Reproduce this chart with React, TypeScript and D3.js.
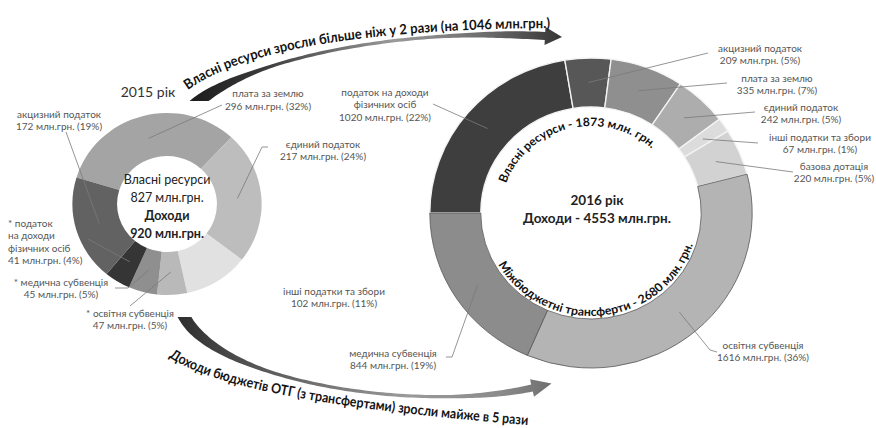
import React from "react";
import * as d3 from "d3";

// ---------- DATA ----------
const categories2015 = [
  "плата за землю",
  "єдиний податок",
  "інші податки та збори",
  "освітня субвенція",
  "медична субвенція",
  "податок на доходи фізичних осіб",
  "акцизний податок",
];
const values2015 = [296, 217, 102, 47, 45, 41, 172];
const percents2015 = [32, 24, 11, 5, 5, 4, 19];
const labelLines2015 = [
  ["плата за землю"],
  ["єдиний податок"],
  ["інші податки та збори"],
  ["* освітня субвенція"],
  ["* медична субвенція"],
  ["* податок", "на доходи", "фізичних осіб"],
  ["акцизний податок"],
];

const categories2016 = [
  "податок на доходи фізичних осіб",
  "акцизний податок",
  "плата за землю",
  "єдиний податок",
  "інші податки та збори",
  "базова дотація",
  "освітня субвенція",
  "медична субвенція",
];
const values2016 = [1020, 209, 335, 242, 67, 220, 1616, 844];
const percents2016 = [22, 5, 7, 5, 1, 5, 36, 19];
const groups2016 = ["own", "own", "own", "own", "own", "transfer", "transfer", "transfer"];
const labelLines2016 = [
  ["податок на доходи", "фізичних осіб"],
  ["акцизний податок"],
  ["плата за землю"],
  ["єдиний податок"],
  ["інші податки та збори"],
  ["базова дотація"],
  ["освітня субвенція"],
  ["медична субвенція"],
];

const year2015 = "2015 рік";
const year2016 = "2016 рік";
const own2015 = 827;
const income2015 = 920;
const own2016 = 1873;
const transfers2016 = 2680;
const income2016 = 4553;
const ownGrowth = 1046;
const topArrowText = `Власні ресурси зросли більше ніж у 2 рази (на ${ownGrowth} млн.грн.)`;
const bottomArrowText = "Доходи бюджетів ОТГ (з трансфертами) зросли майже в 5 рази";
const ringOwnText = `Власні ресурси - ${own2016} млн. грн.`;
const ringTransferText = `Міжбюджетні трансферти - ${transfers2016} млн. грн.`;

// ---------- STYLE / LAYOUT ----------
const colors2015 = ["#a4a4a4", "#bdbdbd", "#e1e1e1", "#b9b9b9", "#8f8f8f", "#353535", "#626262"];
const colors2016 = ["#3e3e3e", "#575757", "#8f8f8f", "#adadad", "#dcdcdc", "#d2d2d2", "#b4b4b4", "#8c8c8c"];

const W = 876;
const H = 428;
const FONT = "Lato, 'Open Sans', sans-serif";
const deg = Math.PI / 180;
const SX = 1.04; // slight horizontal stretch seen in the picture

const C1 = { cx: 167, cy: 204, r0: 48, r1: 91, start: -73 * deg };
const C2 = { cx: 591, cy: 213, r0: 106, r1: 155, start: -90 * deg };

type Pt = [number, number];
type Lab = { x: number; y: number; anchor: string; leader: Pt[] | null };

const layout2015: Lab[] = [
  { x: 268, y: 97, anchor: "middle", leader: [[222, 105]] },
  { x: 323, y: 147.5, anchor: "middle", leader: [[268, 147], [262, 147]] },
  { x: 334, y: 294.5, anchor: "middle", leader: null },
  { x: 130, y: 316.5, anchor: "middle", leader: [[130, 306]] },
  { x: 61, y: 285.5, anchor: "middle", leader: [[115, 288], [128, 288]] },
  { x: 8, y: 226.5, anchor: "start", leader: [[88, 239]] },
  { x: 59, y: 117.5, anchor: "middle", leader: [[66, 132]] },
];
const layout2016: Lab[] = [
  { x: 385, y: 95.5, anchor: "middle", leader: [[433, 104]] },
  { x: 760, y: 51.5, anchor: "middle", leader: [[708, 53]] },
  { x: 777, y: 81.5, anchor: "middle", leader: [[727, 83]] },
  { x: 801, y: 110.5, anchor: "middle", leader: [[755, 112]] },
  { x: 820, y: 140.5, anchor: "middle", leader: [[758, 143]] },
  { x: 834, y: 169.5, anchor: "middle", leader: [[793, 172]] },
  { x: 763, y: 348.5, anchor: "middle", leader: [[717, 352], [710, 350]] },
  { x: 393, y: 356.5, anchor: "middle", leader: [[446, 357], [452, 357]] },
];

// ---------- GEOMETRY HELPERS ----------
function cubicAt(P: Pt[], t: number): Pt {
  const u = 1 - t;
  const a = u * u * u, b = 3 * u * u * t, c = 3 * u * t * t, d = t * t * t;
  return [a * P[0][0] + b * P[1][0] + c * P[2][0] + d * P[3][0], a * P[0][1] + b * P[1][1] + c * P[2][1] + d * P[3][1]];
}
function cubicDer(P: Pt[], t: number): Pt {
  const u = 1 - t;
  const a = 3 * u * u, b = 6 * u * t, c = 3 * t * t;
  return [
    a * (P[1][0] - P[0][0]) + b * (P[2][0] - P[1][0]) + c * (P[3][0] - P[2][0]),
    a * (P[1][1] - P[0][1]) + b * (P[2][1] - P[1][1]) + c * (P[3][1] - P[2][1]),
  ];
}
const smooth = (a: number, b: number, t: number) => {
  const u = Math.max(0, Math.min(1, t));
  return a + (b - a) * u * u * (3 - 2 * u);
};
function bandPath(P: Pt[], wf: (t: number) => number, headHalf: number, headLen: number) {
  const N = 100;
  const L: Pt[] = [];
  const R: Pt[] = [];
  for (let i = 0; i <= N; i++) {
    const t = i / N;
    const [x, y] = cubicAt(P, t);
    let [dx, dy] = cubicDer(P, t);
    const m = Math.hypot(dx, dy);
    dx /= m; dy /= m;
    const w = wf(t) / 2;
    L.push([x - dy * w, y + dx * w]);
    R.push([x + dy * w, y - dx * w]);
  }
  const [ex, ey] = cubicAt(P, 1);
  let [tx, ty] = cubicDer(P, 1);
  const m = Math.hypot(tx, ty);
  tx /= m; ty /= m;
  const head: Pt[] = [
    [ex - ty * headHalf, ey + tx * headHalf],
    [ex + tx * headLen, ey + ty * headLen],
    [ex + ty * headHalf, ey - tx * headHalf],
  ];
  const pts = [...L, ...head, ...R.reverse()];
  return "M" + pts.map((p) => p[0].toFixed(1) + "," + p[1].toFixed(1)).join("L") + "Z";
}
function quadLen(p0: Pt, p1: Pt, p2: Pt) {
  let len = 0;
  let prev = p0;
  for (let i = 1; i <= 200; i++) {
    const t = i / 200, u = 1 - t;
    const q: Pt = [u * u * p0[0] + 2 * u * t * p1[0] + t * t * p2[0], u * u * p0[1] + 2 * u * t * p1[1] + t * t * p2[1]];
    len += Math.hypot(q[0] - prev[0], q[1] - prev[1]);
    prev = q;
  }
  return len;
}
const polar = (r: number, a: number): Pt => [r * Math.sin(a), -r * Math.cos(a)];

let ctx: CanvasRenderingContext2D | null = null;
function measure(font: string, s: string) {
  if (!ctx) ctx = document.createElement("canvas").getContext("2d");
  if (!ctx) return s.length * 7;
  ctx.font = font;
  return ctx.measureText(s).width;
}

// Word-by-word text along a path, fitted to the whole path length
function WordsOnPath(props: { id: string; text: string; len: number; size: number; fill: string }) {
  const font = `700 ${props.size}px Lato`;
  const words = props.text.split(" ");
  const ws = words.map((w) => measure(font, w));
  const sp = measure(font, " ");
  const total = ws.reduce((a, b) => a + b, 0) + sp * (words.length - 1);
  const k = props.len / total;
  let off = 0;
  return (
    <g fontSize={props.size} fontWeight={700} fill={props.fill}>
      {words.map((w, i) => {
        const o = off;
        off += (ws[i] + sp) * k;
        return (
          <text key={i}>
            <textPath href={`#${props.id}`} startOffset={o} textLength={ws[i] * k} lengthAdjust="spacingAndGlyphs">
              {w}
            </textPath>
          </text>
        );
      })}
    </g>
  );
}

// Whole text along a circular path: shrink the font (never the glyphs) so it fits
function FitOnPath(props: { id: string; text: string; len: number; size: number; fill: string }) {
  const nat = measure(`700 ${props.size}px Lato`, props.text);
  const size = nat > props.len ? (props.size * props.len) / nat : props.size;
  const nat2 = measure(`700 ${size}px Lato`, props.text);
  return (
    <text fontSize={size} fontWeight={700} fill={props.fill}>
      <textPath href={`#${props.id}`} textLength={props.len} lengthAdjust={nat2 > props.len ? "spacingAndGlyphs" : "spacing"}>
        {props.text}
      </textPath>
    </text>
  );
}

const topBand: Pt[] = [[193, 106], [247, 58], [400, 28], [545, 36]];
const bottomBand: Pt[] = [[182, 312], [212, 383], [420, 413], [532, 388]];
const topText: Pt[] = [[188, 90], [270, 30], [550, 28]];
const bottomText: Pt[] = [[169, 357], [235, 402], [528, 425]];

export default function App() {
  const pie1 = d3.pie<number>().sort(null).startAngle(C1.start).endAngle(C1.start + 2 * Math.PI)(values2015);
  const arc1 = d3.arc<d3.PieArcDatum<number>>().innerRadius(C1.r0).outerRadius(C1.r1);
  const arc1c = d3.arc<d3.PieArcDatum<number>>().innerRadius(45).outerRadius(C1.r1);
  const pie2 = d3.pie<number>().sort(null).startAngle(C2.start).endAngle(C2.start + 2 * Math.PI)(values2016);
  const arc2 = d3.arc<d3.PieArcDatum<number>>().innerRadius(C2.r0).outerRadius(C2.r1);
  const line = d3.line<Pt>();

  const topBandD = bandPath(topBand, (t) => (t < 0.35 ? smooth(12, 3.2, t / 0.35) : t < 0.72 ? 3.2 : smooth(3.2, 8, (t - 0.72) / 0.28)), 9, 17);
  const botBandD = bandPath(bottomBand, (t) => (t < 0.4 ? smooth(12, 3.2, t / 0.4) : t < 0.75 ? 3.2 : smooth(3.2, 7, (t - 0.75) / 0.25)), 9, 20);

  const topTextD = `M${topText[0]} Q${topText[1]} ${topText[2]}`;
  const botTextD = `M${bottomText[0]} Q${bottomText[1]} ${bottomText[2]}`;
  const topTextLen = quadLen(topText[0], topText[1], topText[2]);
  const botTextLen = quadLen(bottomText[0], bottomText[1], bottomText[2]);

  const rT = 87, a0 = -70 * deg, a1 = 42 * deg;
  const rB = 103, b0 = 240 * deg, b1 = 108 * deg;
  const ringTopD = `M${polar(rT, a0)} A${rT},${rT} 0 0 1 ${polar(rT, a1)}`;
  const ringBotD = `M${polar(rB, b0)} A${rB},${rB} 0 0 0 ${polar(rB, b1)}`;

  const valueLine = (v: number, p: number) => `${v} млн.грн. (${p}%)`;

  const renderLabels = (
    pie: d3.PieArcDatum<number>[],
    arc: d3.Arc<any, d3.PieArcDatum<number>>,
    C: typeof C1,
    layout: Lab[],
    lines: string[][],
    values: number[],
    pcts: number[],
    key: string
  ) =>
    pie.map((d, i) => {
      const L = layout[i];
      const [cx, cy] = arc.centroid(d);
      const end: Pt = [C.cx + cx * SX, C.cy + cy];
      const all = [...lines[i], valueLine(values[i], pcts[i])];
      return (
        <g key={key + i}>
          {L.leader && (
            <path d={line([...L.leader, end]) || ""} fill="none" stroke="#7a7a7a" strokeWidth={0.8} />
          )}
          {all.map((s, j) => (
            <text key={j} x={L.x} y={L.y + j * 12.6} textAnchor={L.anchor as any} fontSize={10} fill="#555">
              {s}
            </text>
          ))}
        </g>
      );
    });

  return (
    <svg
      width={W}
      height={H}
      viewBox={`0 0 ${W} ${H}`}
      style={{ position: "absolute", left: 0, top: 0, background: "#fff" }}
      fontFamily={FONT}
    >
      <defs>
        <linearGradient id="gTop" gradientUnits="userSpaceOnUse" x1={186} y1={0} x2={565} y2={0}>
          <stop offset="0" stopColor="#1a1a1a" />
          <stop offset="0.2" stopColor="#3a3a3a" />
          <stop offset="0.55" stopColor="#9a9a9a" />
          <stop offset="0.8" stopColor="#6a6a6a" />
          <stop offset="1" stopColor="#333" />
        </linearGradient>
        <linearGradient id="gBot" gradientUnits="userSpaceOnUse" x1={178} y1={0} x2={560} y2={0}>
          <stop offset="0" stopColor="#2e2e2e" />
          <stop offset="0.2" stopColor="#555" />
          <stop offset="0.6" stopColor="#9a9a9a" />
          <stop offset="0.85" stopColor="#8a8a8a" />
          <stop offset="1" stopColor="#6a6a6a" />
        </linearGradient>
        <clipPath id="clipTop">
          <rect x={0} y={0} width={W} height={101} />
        </clipPath>
        <clipPath id="clipBot">
          <rect x={0} y={317} width={W} height={H - 317} />
        </clipPath>
        <path id="topTextPath" d={topTextD} />
        <path id="botTextPath" d={botTextD} />
        <path id="ringTopPath" d={ringTopD} />
        <path id="ringBotPath" d={ringBotD} />
      </defs>

      {/* arrows */}
      <path d={topBandD} fill="url(#gTop)" clipPath="url(#clipTop)" />
      <path d={botBandD} fill="url(#gBot)" clipPath="url(#clipBot)" />
      <WordsOnPath id="topTextPath" text={topArrowText} len={topTextLen} size={14} fill="#141414" />
      <WordsOnPath id="botTextPath" text={bottomArrowText} len={botTextLen} size={14} fill="#141414" />

      {/* 2015 donut */}
      <g transform={`translate(${C1.cx},${C1.cy}) scale(${SX},1)`}>
        {pie1.map((d, i) => (
          <path key={categories2015[i]} d={arc1(d) || ""} fill={colors2015[i]} />
        ))}
      </g>
      {renderLabels(pie1, arc1c, C1, layout2015, labelLines2015, values2015, percents2015, "a")}
      <text x={148} y={97} textAnchor="middle" fontSize={14} fill="#333">
        {year2015}
      </text>
      <g textAnchor="middle" fill="#222">
        <text x={C1.cx} y={184} fontSize={12.5}>Власні ресурси</text>
        <text x={C1.cx} y={202} fontSize={12.5}>{own2015} млн.грн.</text>
        <text x={C1.cx} y={220} fontSize={12.5} fontWeight={700}>Доходи</text>
        <text x={C1.cx} y={237.5} fontSize={12.5} fontWeight={700}>{income2015} млн.грн.</text>
      </g>

      {/* 2016 donut */}
      <g transform={`translate(${C2.cx},${C2.cy}) scale(${SX},1)`}>
        {pie2.map((d, i) => (
          <path
            key={categories2016[i]}
            d={arc2(d) || ""}
            fill={colors2016[i]}
            stroke={groups2016[i] === "own" || i === 5 ? "#f4f4f4" : "#5a5a5a"}
            strokeWidth={groups2016[i] === "own" || i === 5 ? 1.3 : 0.8}
          />
        ))}
        <FitOnPath id="ringTopPath" text={ringOwnText} len={rT * (a1 - a0)} size={13.5} fill="#111" />
        <FitOnPath id="ringBotPath" text={ringTransferText} len={rB * (b0 - b1)} size={13.5} fill="#111" />
      </g>
      {renderLabels(pie2, arc2, C2, layout2016, labelLines2016, values2016, percents2016, "b")}
      <g textAnchor="middle" fill="#222" fontWeight={700}>
        <text x={597} y={205} fontSize={13.5}>{year2016}</text>
        <text x={597} y={223} fontSize={13.5}>Доходи - {income2016} млн.грн.</text>
      </g>
    </svg>
  );
}
